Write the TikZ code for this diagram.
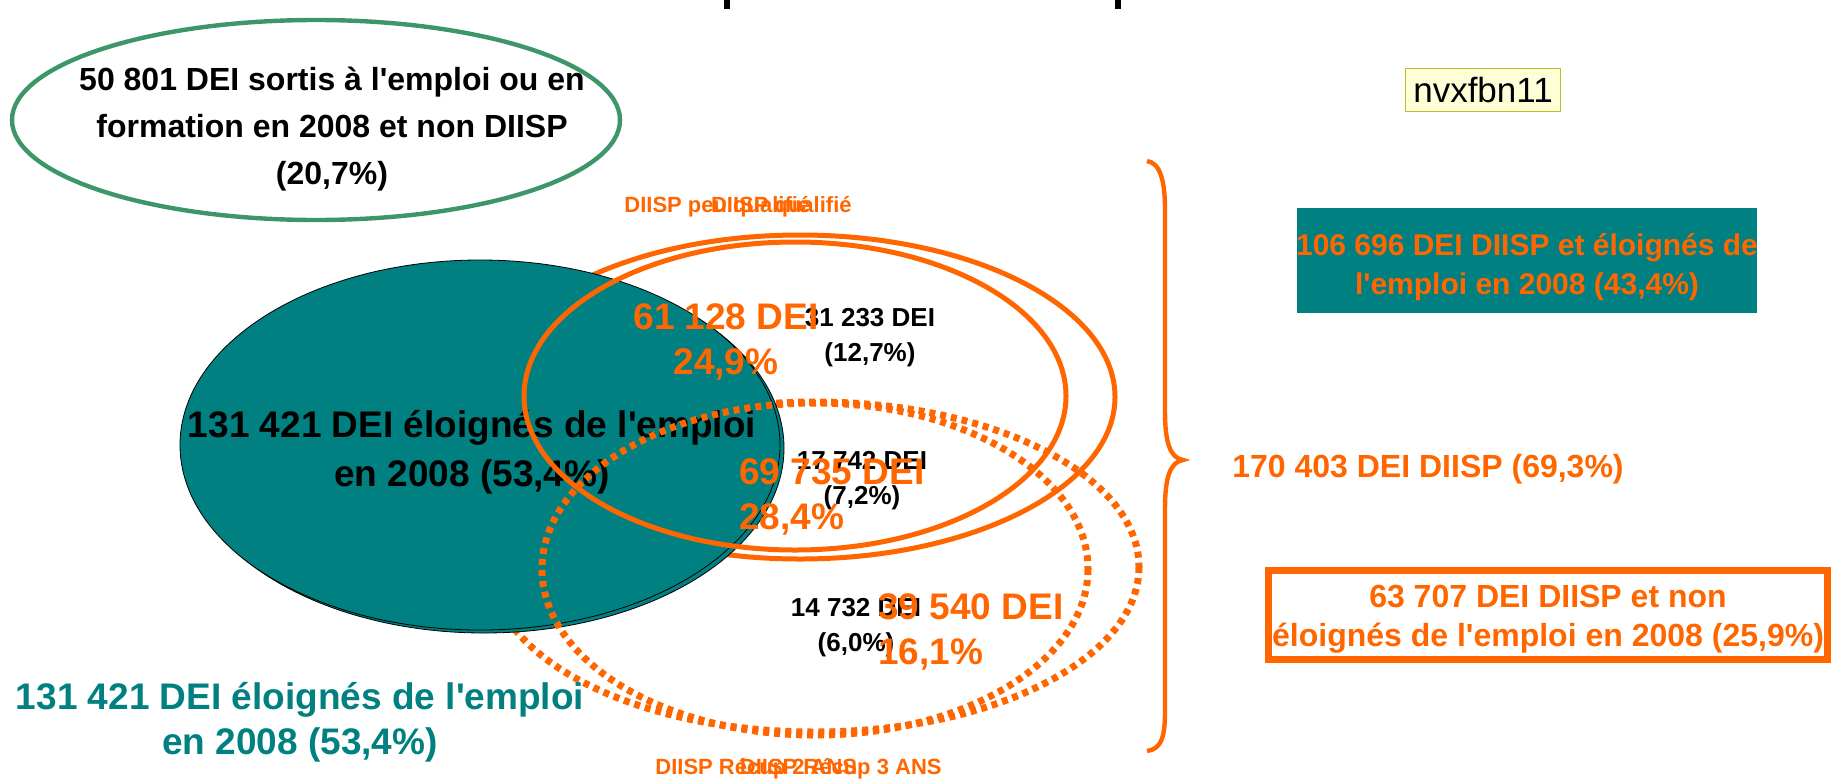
\documentclass[tikz,border=0pt]{standalone}
\usepackage{fontspec}
\setmainfont{Liberation Sans}[Ligatures=TeXOff]

\definecolor{dorange}{RGB}{255,102,0}
\definecolor{dteal}{RGB}{0,128,128}
\definecolor{dgreen}{RGB}{60,150,104}
\definecolor{notefill}{RGB}{255,255,215}
\definecolor{noteline}{RGB}{190,190,40}

\tikzset{
  txt/.style={inner sep=0pt, align=center},
  bigorange/.style={txt, text=dorange, font=\fontsize{18.5}{22.5}\selectfont\bfseries},
  cell/.style={txt, font=\fontsize{13}{17.5}\selectfont\bfseries},
  setname/.style={txt, text=dorange, font=\fontsize{11}{13}\selectfont\bfseries},
  diisp/.style={dorange, line width=2.5pt},
  diispdot/.style={dorange, line width=3.5pt, dash pattern=on 3pt off 2.5pt},
}

\begin{document}
\begin{tikzpicture}[x=0.5pt,y=0.5pt,yscale=-1,xscale=1]
\useasboundingbox (0,0) rectangle (1840,782);
% bits of the cut title
\fill (724,0) rectangle (730,9);
\fill (1115,0) rectangle (1121,9);

% sortis a l'emploi
\draw [dgreen, line width=2.2pt] (316,120) ellipse [x radius=304, y radius=100];
\node [txt, font=\fontsize{16}{23.5}\selectfont\bfseries] (sortis) at (332,129) {50 801 DEI sortis à l'emploi ou en\\formation en 2008 et non DIISP\\(20,7\%)};

% sets under the teal one
\draw [diisp] (800,397) ellipse [x radius=315, y radius=162];
\draw [diispdot] (815,567) ellipse [x radius=324, y radius=165];

% eloignes de l'emploi
\draw [fill=dteal, line width=0.4pt] (484,448) ellipse [x radius=300, y radius=185];
\draw [fill=dteal, line width=0.4pt] (480,445) ellipse [x radius=300, y radius=185];
\node [txt, font=\fontsize{18.5}{24.5}\selectfont\bfseries] (eloignes) at (472,452) {131 421 DEI éloignés de l'emploi\\en 2008 (53,4\%)};

% sets over the teal one
\draw [diisp] (795,396) ellipse [x radius=271, y radius=154];
\draw [diispdot] (815,569) ellipse [x radius=273, y radius=166];

\node [setname, anchor=west] (qualA) at (624,207) {DIISP peu qualifié};
\node [setname, anchor=east] (qualB) at (852,207) {DIISP qualifié};
\node [setname, anchor=west] (recupA) at (655,769) {DIISP Récup 2 ANS};
\node [setname, anchor=east] (recupB) at (942,769) {DIISP Récup 3 ANS};

\node [cell] (c31) at (870,338) {31 233 DEI\\(12,7\%)};
\node [cell] (c17) at (862,481) {17 742 DEI\\(7,2\%)};
\node [cell] (c14) at (856,628) {14 732 DEI\\(6,0\%)};

\node [bigorange] (qual) at (726,342) {61 128 DEI\\24,9\%};
\node [bigorange, anchor=west, align=left] (peuqual) at (739,497) {69 735 DEI\\28,4\%};
\node [bigorange, anchor=west, align=left] (recup) at (878,632) {39 540 DEI\\16,1\%};

\node [txt, text=dteal, font=\fontsize{18.5}{22.5}\selectfont\bfseries] (eloignesbis) at (300,722) {131 421 DEI éloignés de l'emploi\\en 2008 (53,4\%)};

% right side
\node [draw=noteline, fill=notefill, line width=0.8pt, minimum width=77.5pt, minimum height=21.5pt, inner sep=0pt, font=\fontsize{17.5}{20}\selectfont] (note) at (1483,90) {nvxfbn11};

\draw [dorange, line width=2.2pt] (1147,161) .. controls (1160,163) and (1165,180) .. (1165,210) -- (1165,412) .. controls (1165,442) and (1170,458) .. (1183,460) .. controls (1170,462) and (1165,478) .. (1165,508) -- (1165,712) .. controls (1165,740) and (1160,749) .. (1147,751);

\node [fill=dteal, minimum width=230pt, minimum height=52.5pt, inner sep=0pt] (eloidiisp) at (1527,260) {};
\node [txt, text=dorange, font=\fontsize{15}{19.5}\selectfont\bfseries] (eloidiisptxt) at (1527,267) {106 696 DEI DIISP et éloignés de\\l'emploi en 2008 (43,4\%)};
\node [txt, text=dorange, font=\fontsize{16}{19.5}\selectfont\bfseries] (total) at (1428,469) {170 403 DEI DIISP (69,3\%)};
\node [draw=dorange, line width=3.5pt, minimum width=279.5pt, minimum height=44.5pt, inner sep=0pt] (noneloi) at (1548,615) {};
\node [txt, text=dorange, font=\fontsize{16}{19.5}\selectfont\bfseries] (noneloitxt) at (1548,619) {63 707 DEI DIISP et non\\éloignés de l'emploi en 2008 (25,9\%)};
\end{tikzpicture}
\end{document}
